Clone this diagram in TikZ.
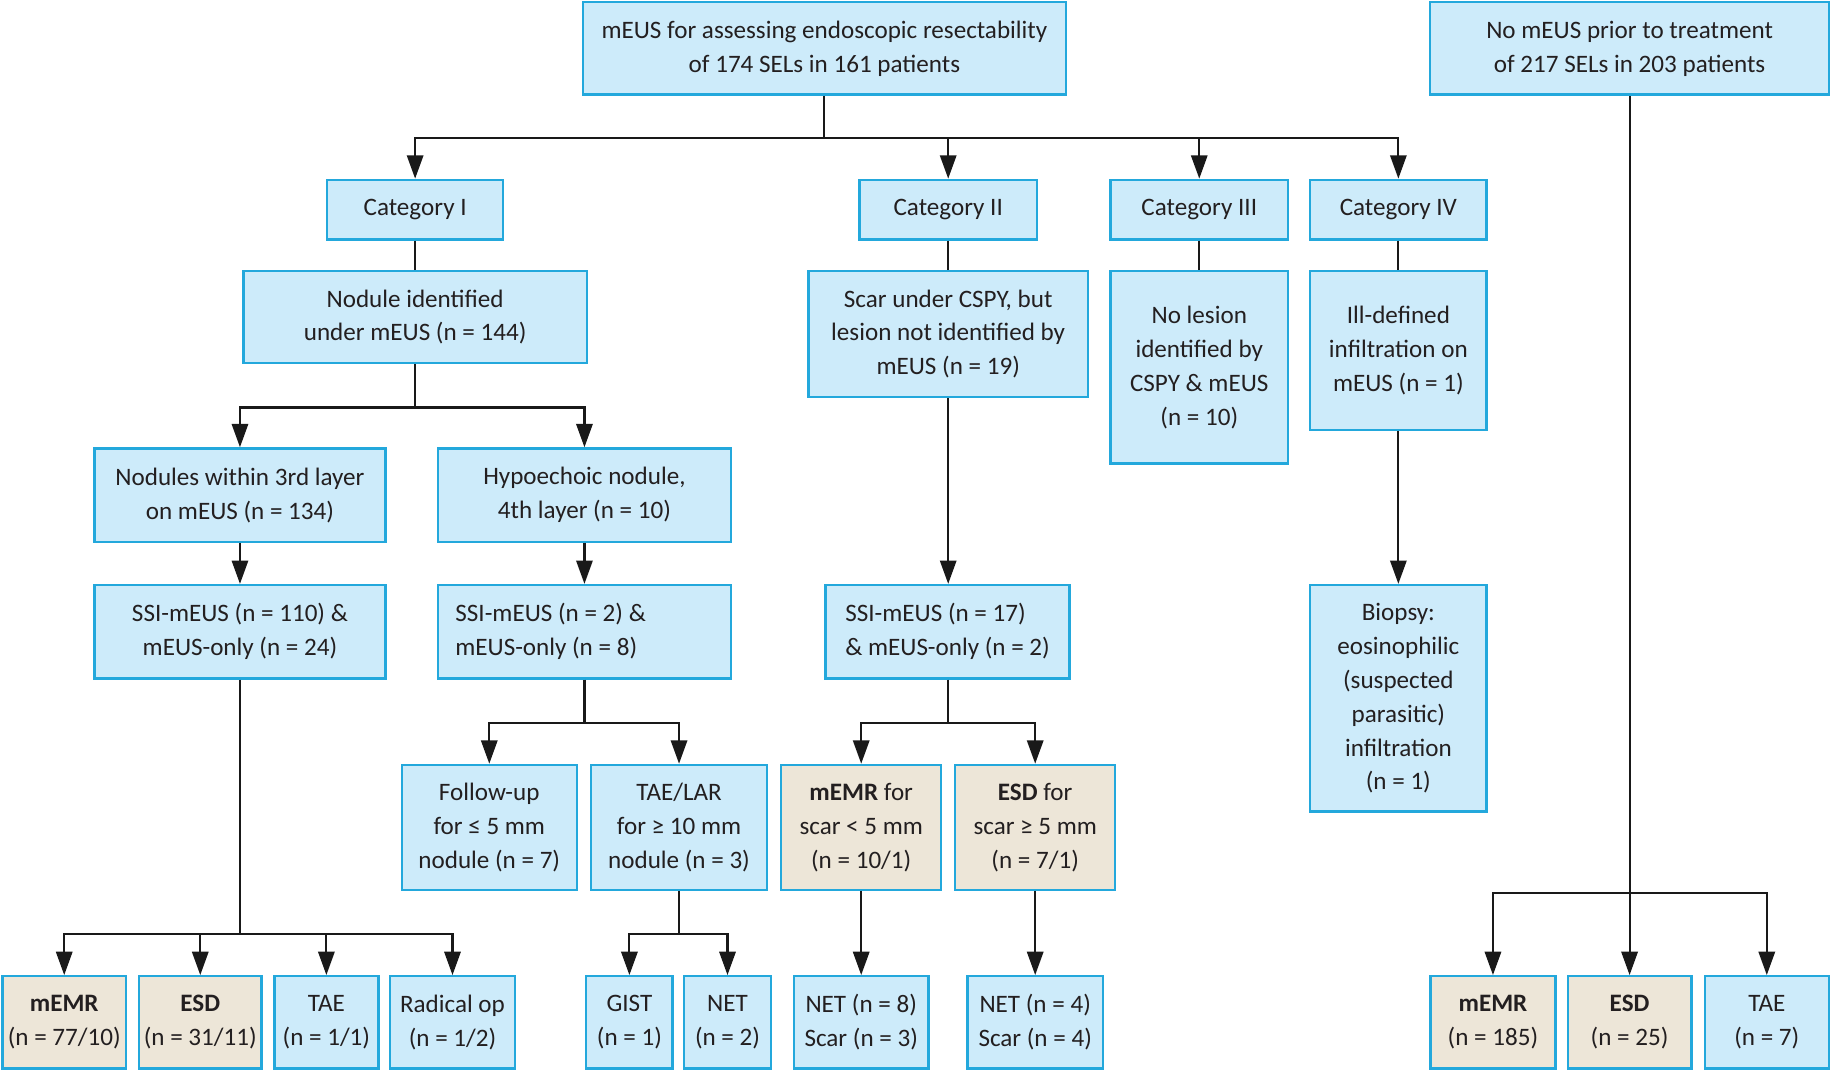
\documentclass[tikz,border=0pt]{standalone}
\usepackage{fontspec}
\setmainfont{Carlito}
\usetikzlibrary{arrows.meta}
\definecolor{bfill}{HTML}{CDEBFA}
\definecolor{bline}{HTML}{23A8DC}
\definecolor{efill}{HTML}{EDE6D8}
\definecolor{tcol}{HTML}{231F20}
\begin{document}
\begin{tikzpicture}[x=1pt,y=-1pt,
  box/.style={draw=bline,line width=2pt,fill=bfill,align=center,inner sep=2pt,
    font=\fontsize{21.5}{29}\selectfont,text=tcol},
  tbox/.style={box,fill=efill},
  lbox/.style={box,align=flush left,inner xsep=15pt},
  con/.style={line width=1.8pt,draw=black!90},
  arr/.style={con,-{Triangle[length=20pt,width=14pt]}}]
\useasboundingbox (0,0) rectangle (1568,917);
% row 0
\node[box,minimum width=414,minimum height=79] (top) at (706,41.5) {mEUS for assessing endoscopic resectability\\of 174 SELs in 161 patients};
\node[box,minimum width=342,minimum height=79] (right) at (1395.5,41.5) {No mEUS prior to treatment\\of 217 SELs in 203 patients};
% categories
\node[box,minimum width=151,minimum height=51] (cat1) at (355.5,179.5) {Category I};
\node[box,minimum width=152,minimum height=51] (cat2) at (812,179.5) {Category II};
\node[box,minimum width=152,minimum height=51] (cat3) at (1027,179.5) {Category III};
\node[box,minimum width=151,minimum height=51] (cat4) at (1197.5,179.5) {Category IV};
% row 2
\node[box,minimum width=294,minimum height=79] (nod) at (355.5,271.5) {Nodule identified\\under mEUS (n = 144)};
\node[box,minimum width=239,minimum height=108] (scar) at (812,286) {Scar under CSPY, but\\lesion not identified by\\mEUS (n = 19)};
\node[box,minimum width=152,minimum height=165] (nol) at (1027,314.5) {No lesion\\identified by\\CSPY \& mEUS\\(n = 10)};
\node[box,minimum width=151,minimum height=136] (ill) at (1197.5,300) {Ill-defined\\infiltration on\\mEUS (n = 1)};
% row 3
\node[box,minimum width=249,minimum height=80] (n3) at (205.5,424) {Nodules within 3rd layer\\on mEUS (n = 134)};
\node[box,minimum width=251,minimum height=80] (hyp) at (500.5,424) {Hypoechoic nodule,\\4th layer (n = 10)};
% row 4
\node[box,minimum width=249,minimum height=80] (ssi1) at (205.5,541) {SSI-mEUS (n = 110) \&\\mEUS-only (n = 24)};
\node[lbox,text width=221pt,minimum height=80] (ssi2) at (500.5,541) {SSI-mEUS (n = 2) \&\\mEUS-only (n = 8)};
\node[box,align=left,minimum width=209,minimum height=80] (ssi3) at (811.5,541) {SSI-mEUS (n = 17)\\\& mEUS-only (n = 2)};
\node[box,minimum width=151,minimum height=194] (bio) at (1197.5,598) {Biopsy:\\eosinophilic\\(suspected\\parasitic)\\infiltration\\(n = 1)};
% row 5
\node[box,minimum width=150,minimum height=107] (fu) at (419,708.5) {Follow-up\\for ≤ 5 mm\\nodule (n = 7)};
\node[box,minimum width=151,minimum height=107] (tae) at (581.5,708.5) {TAE/LAR\\for ≥ 10 mm\\nodule (n = 3)};
\node[tbox,minimum width=137,minimum height=107] (memrs) at (737.5,708.5) {\textbf{mEMR} for\\scar < 5 mm\\(n = 10/1)};
\node[tbox,minimum width=137,minimum height=107] (esds) at (886.5,708.5) {\textbf{ESD} for\\scar ≥ 5 mm\\(n = 7/1)};
% bottom row
\node[tbox,minimum width=106,minimum height=79] (b1) at (55,875.5) {\textbf{mEMR}\\(n = 77/10)};
\node[tbox,minimum width=105,minimum height=79] (b2) at (171.5,875.5) {\textbf{ESD}\\(n = 31/11)};
\node[box,minimum width=89,minimum height=79] (b3) at (279.5,875.5) {TAE\\(n = 1/1)};
\node[box,minimum width=107,minimum height=79] (b4) at (387.5,875.5) {Radical op\\(n = 1/2)};
\node[box,minimum width=74,minimum height=79] (b5) at (539,875.5) {GIST\\(n = 1)};
\node[box,minimum width=74,minimum height=79] (b6) at (623,875.5) {NET\\(n = 2)};
\node[box,minimum width=115,minimum height=79] (b7) at (737.5,875.5) {NET (n = 8)\\Scar (n = 3)};
\node[box,minimum width=116,minimum height=79] (b8) at (886.5,875.5) {NET (n = 4)\\Scar (n = 4)};
\node[tbox,minimum width=107,minimum height=79] (b9) at (1278.5,875.5) {\textbf{mEMR}\\(n = 185)};
\node[tbox,minimum width=106,minimum height=79] (b10) at (1395.5,875.5) {\textbf{ESD}\\(n = 25)};
\node[box,minimum width=106,minimum height=79] (b11) at (1513,875.5) {TAE\\(n = 7)};
% junctions
\coordinate (j1) at (706,118);
\coordinate (j2) at (355.5,349);
\coordinate (j3) at (500.5,619);
\coordinate (j4) at (811.5,619);
\coordinate (j5) at (205.5,800);
\coordinate (j6) at (581.5,800);
\coordinate (j7) at (1395.5,765);
% connectors
\draw[con] (top.south) -- (j1);
\draw[arr] (j1) -| (cat1.north);
\draw[arr] (j1) -| (cat2.north);
\draw[arr] (j1) -| (cat3.north);
\draw[arr] (j1) -| (cat4.north);
\draw[con] (cat1.south) -- (nod.north);
\draw[con] (cat2.south) -- (cat2.south |- scar.north);
\draw[con] (cat3.south) -- (nol.north);
\draw[con] (cat4.south) -- (ill.north);
\draw[con] (nod.south) -- (j2);
\draw[arr] (j2) -| (n3.north);
\draw[arr] (j2) -| (hyp.north);
\draw[arr] (n3.south) -- (ssi1.north);
\draw[arr] (hyp.south) -- (ssi2.north);
\draw[arr] (scar.south) -- (scar.south |- ssi3.north);
\draw[arr] (ill.south) -- (bio.north);
\draw[con] (ssi2.south) -- (j3);
\draw[arr] (j3) -| (fu.north);
\draw[arr] (j3) -| (tae.north);
\draw[con] (ssi3.south) -- (j4);
\draw[arr] (j4) -| (memrs.north);
\draw[arr] (j4) -| (esds.north);
\draw[con] (ssi1.south) -- (j5);
\draw[arr] (j5) -| (b1.north);
\draw[arr] (j5) -| (b2.north);
\draw[arr] (j5) -| (b3.north);
\draw[arr] (j5) -| (b4.north);
\draw[con] (tae.south) -- (j6);
\draw[arr] (j6) -| (b5.north);
\draw[arr] (j6) -| (b6.north);
\draw[arr] (memrs.south) -- (b7.north);
\draw[arr] (esds.south) -- (b8.north);
\draw[con] (right.south) -- (j7);
\draw[arr] (j7) -| (b9.north);
\draw[arr] (j7) -- (b10.north);
\draw[arr] (j7) -| (b11.north);
\end{tikzpicture}
\end{document}
